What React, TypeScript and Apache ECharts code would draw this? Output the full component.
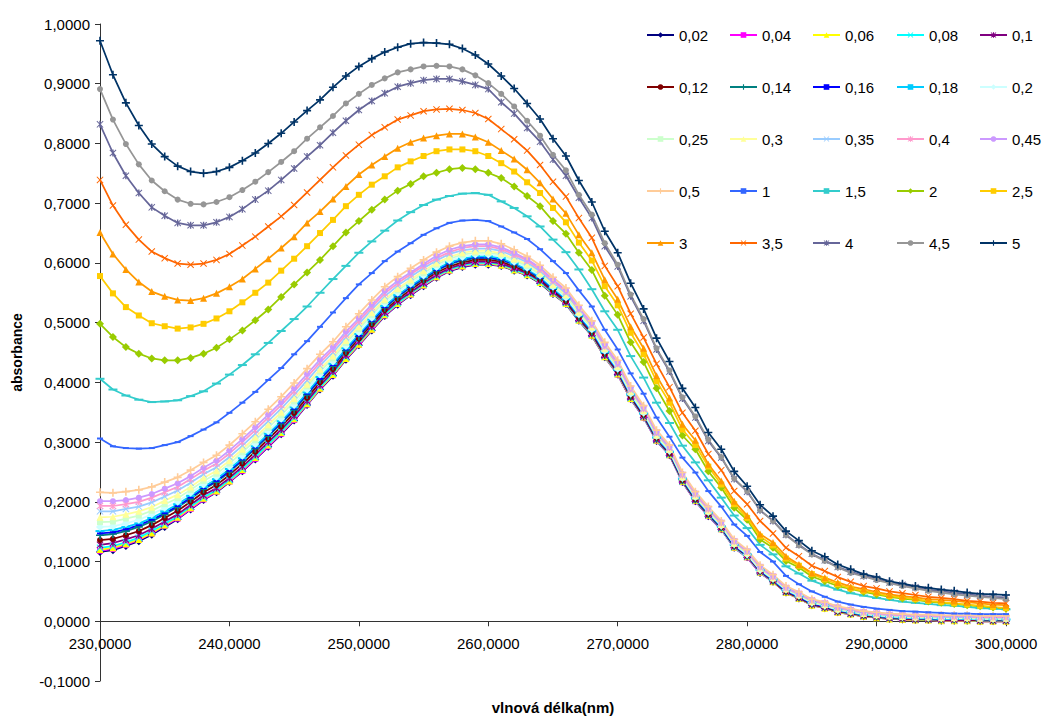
import React, { useEffect, useRef } from 'react';
import * as echarts from 'echarts';

const wavelengths = [
  230, 231, 232, 233, 234, 235, 236, 237, 238, 239,
  240, 241, 242, 243, 244, 245, 246, 247, 248, 249,
  250, 251, 252, 253, 254, 255, 256, 257, 258, 259,
  260, 261, 262, 263, 264, 265, 266, 267, 268, 269,
  270, 271, 272, 273, 274, 275, 276, 277, 278, 279,
  280, 281, 282, 283, 284, 285, 286, 287, 288, 289,
  290, 291, 292, 293, 294, 295, 296, 297, 298, 299,
  300,
];

const seriesNames = [
  '0,02', '0,04', '0,06', '0,08', '0,1',
  '0,12', '0,14', '0,16', '0,18', '0,2',
  '0,25', '0,3', '0,35', '0,4', '0,45',
  '0,5', '1', '1,5', '2', '2,5',
  '3', '3,5', '4', '4,5', '5',
];

const seriesColors = [
  '#000080', '#FF00FF', '#FFFF00', '#00FFFF', '#800080',
  '#800000', '#008080', '#0000FF', '#00CCFF', '#CCFFFF',
  '#CCFFCC', '#FFFF99', '#99CCFF', '#FF99CC', '#CC99FF',
  '#FFCC99', '#3366FF', '#33CCCC', '#99CC00', '#FFCC00',
  '#FF9900', '#FF6600', '#666699', '#969696', '#003366',
];

const c002 = [
  0.116, 0.119, 0.126, 0.134, 0.145, 0.158, 0.171, 0.187, 0.203, 0.216,
  0.233, 0.251, 0.271, 0.292, 0.313, 0.336, 0.362, 0.388, 0.411, 0.438,
  0.462, 0.487, 0.511, 0.530, 0.546, 0.561, 0.575, 0.586, 0.593, 0.597,
  0.597, 0.595, 0.587, 0.579, 0.566, 0.548, 0.531, 0.503, 0.478, 0.442,
  0.413, 0.372, 0.341, 0.302, 0.278, 0.233, 0.201, 0.176, 0.154, 0.123,
  0.107, 0.081, 0.066, 0.048, 0.038, 0.027, 0.022, 0.015, 0.012, 0.008,
  0.006, 0.004, 0.003, 0.002, 0.002, 0.001, 0.001, 0.001, 0.000, 0.000,
  0.000,
];
const c004 = [
  0.118, 0.121, 0.128, 0.136, 0.147, 0.160, 0.172, 0.188, 0.204, 0.217,
  0.234, 0.252, 0.272, 0.293, 0.314, 0.337, 0.363, 0.389, 0.412, 0.439,
  0.463, 0.488, 0.512, 0.531, 0.547, 0.562, 0.576, 0.587, 0.594, 0.598,
  0.598, 0.596, 0.588, 0.580, 0.567, 0.549, 0.532, 0.504, 0.479, 0.443,
  0.413, 0.372, 0.341, 0.302, 0.278, 0.233, 0.201, 0.176, 0.154, 0.123,
  0.107, 0.081, 0.066, 0.048, 0.038, 0.027, 0.022, 0.015, 0.012, 0.008,
  0.006, 0.004, 0.003, 0.002, 0.002, 0.001, 0.001, 0.001, 0.000, 0.000,
  0.000,
];
const c006 = [
  0.120, 0.123, 0.130, 0.137, 0.148, 0.161, 0.174, 0.190, 0.206, 0.218,
  0.235, 0.254, 0.274, 0.295, 0.316, 0.339, 0.364, 0.390, 0.413, 0.440,
  0.464, 0.489, 0.513, 0.532, 0.548, 0.563, 0.577, 0.588, 0.595, 0.599,
  0.599, 0.596, 0.588, 0.580, 0.567, 0.549, 0.532, 0.504, 0.479, 0.443,
  0.414, 0.373, 0.342, 0.303, 0.279, 0.234, 0.202, 0.177, 0.155, 0.124,
  0.108, 0.082, 0.066, 0.048, 0.038, 0.027, 0.022, 0.015, 0.012, 0.008,
  0.006, 0.004, 0.003, 0.002, 0.002, 0.001, 0.001, 0.001, 0.000, 0.000,
  0.000,
];
const c008 = [
  0.123, 0.126, 0.132, 0.140, 0.151, 0.163, 0.176, 0.192, 0.207, 0.220,
  0.237, 0.255, 0.275, 0.296, 0.317, 0.340, 0.366, 0.392, 0.415, 0.442,
  0.466, 0.491, 0.514, 0.533, 0.549, 0.564, 0.578, 0.589, 0.596, 0.600,
  0.600, 0.598, 0.589, 0.581, 0.568, 0.550, 0.533, 0.505, 0.480, 0.444,
  0.415, 0.374, 0.342, 0.303, 0.279, 0.234, 0.202, 0.177, 0.155, 0.124,
  0.108, 0.082, 0.067, 0.049, 0.039, 0.028, 0.023, 0.016, 0.013, 0.009,
  0.007, 0.005, 0.004, 0.003, 0.003, 0.002, 0.002, 0.002, 0.001, 0.001,
  0.001,
];
const c010 = [
  0.128, 0.131, 0.137, 0.144, 0.155, 0.167, 0.179, 0.195, 0.211, 0.223,
  0.240, 0.259, 0.279, 0.300, 0.321, 0.344, 0.369, 0.395, 0.418, 0.445,
  0.468, 0.493, 0.517, 0.536, 0.551, 0.566, 0.580, 0.591, 0.598, 0.602,
  0.602, 0.599, 0.591, 0.583, 0.570, 0.551, 0.534, 0.506, 0.481, 0.445,
  0.416, 0.375, 0.343, 0.304, 0.280, 0.235, 0.203, 0.178, 0.156, 0.125,
  0.109, 0.083, 0.067, 0.049, 0.039, 0.028, 0.023, 0.016, 0.013, 0.009,
  0.007, 0.005, 0.004, 0.003, 0.003, 0.002, 0.002, 0.002, 0.001, 0.001,
  0.001,
];
const c012 = [
  0.136, 0.138, 0.144, 0.151, 0.161, 0.173, 0.185, 0.200, 0.216, 0.228,
  0.245, 0.264, 0.284, 0.305, 0.326, 0.349, 0.374, 0.400, 0.422, 0.449,
  0.473, 0.497, 0.521, 0.539, 0.555, 0.570, 0.584, 0.594, 0.601, 0.605,
  0.605, 0.602, 0.594, 0.585, 0.572, 0.554, 0.536, 0.508, 0.483, 0.447,
  0.418, 0.376, 0.345, 0.306, 0.281, 0.236, 0.204, 0.179, 0.157, 0.126,
  0.110, 0.084, 0.068, 0.050, 0.040, 0.029, 0.024, 0.017, 0.014, 0.010,
  0.008, 0.006, 0.005, 0.004, 0.004, 0.003, 0.003, 0.003, 0.002, 0.002,
  0.002,
];
const c014 = [
  0.144, 0.146, 0.151, 0.158, 0.167, 0.179, 0.191, 0.205, 0.221, 0.233,
  0.250, 0.269, 0.289, 0.310, 0.331, 0.354, 0.379, 0.405, 0.427, 0.453,
  0.477, 0.501, 0.525, 0.543, 0.559, 0.573, 0.587, 0.598, 0.604, 0.608,
  0.608, 0.605, 0.597, 0.588, 0.574, 0.556, 0.539, 0.510, 0.485, 0.449,
  0.420, 0.378, 0.347, 0.307, 0.283, 0.237, 0.205, 0.180, 0.158, 0.127,
  0.111, 0.085, 0.069, 0.051, 0.041, 0.030, 0.025, 0.018, 0.015, 0.011,
  0.009, 0.007, 0.006, 0.005, 0.005, 0.004, 0.004, 0.004, 0.003, 0.003,
  0.003,
];
const c016 = [
  0.147, 0.149, 0.154, 0.161, 0.170, 0.181, 0.193, 0.207, 0.223, 0.235,
  0.252, 0.271, 0.291, 0.312, 0.333, 0.356, 0.381, 0.406, 0.429, 0.455,
  0.478, 0.503, 0.526, 0.545, 0.560, 0.575, 0.588, 0.599, 0.606, 0.609,
  0.609, 0.606, 0.598, 0.589, 0.575, 0.557, 0.539, 0.511, 0.486, 0.450,
  0.420, 0.379, 0.347, 0.308, 0.283, 0.238, 0.206, 0.181, 0.158, 0.127,
  0.111, 0.085, 0.069, 0.051, 0.041, 0.030, 0.025, 0.018, 0.015, 0.011,
  0.009, 0.007, 0.006, 0.005, 0.005, 0.004, 0.004, 0.004, 0.003, 0.003,
  0.003,
];
const c018 = [
  0.151, 0.153, 0.158, 0.164, 0.173, 0.184, 0.196, 0.210, 0.225, 0.238,
  0.255, 0.273, 0.293, 0.314, 0.335, 0.358, 0.383, 0.409, 0.431, 0.457,
  0.481, 0.505, 0.528, 0.546, 0.562, 0.576, 0.590, 0.601, 0.607, 0.611,
  0.611, 0.608, 0.599, 0.590, 0.577, 0.558, 0.540, 0.512, 0.487, 0.451,
  0.421, 0.380, 0.348, 0.308, 0.284, 0.239, 0.207, 0.182, 0.159, 0.128,
  0.112, 0.086, 0.070, 0.052, 0.042, 0.031, 0.026, 0.019, 0.015, 0.011,
  0.009, 0.007, 0.006, 0.005, 0.005, 0.004, 0.004, 0.004, 0.003, 0.003,
  0.003,
];
const c020 = [
  0.158, 0.159, 0.164, 0.170, 0.179, 0.190, 0.200, 0.215, 0.229, 0.242,
  0.259, 0.277, 0.297, 0.318, 0.339, 0.362, 0.388, 0.413, 0.435, 0.461,
  0.484, 0.508, 0.532, 0.550, 0.565, 0.579, 0.593, 0.604, 0.610, 0.614,
  0.614, 0.611, 0.602, 0.592, 0.579, 0.560, 0.542, 0.514, 0.489, 0.453,
  0.423, 0.381, 0.349, 0.310, 0.285, 0.240, 0.208, 0.183, 0.160, 0.129,
  0.112, 0.086, 0.071, 0.053, 0.043, 0.031, 0.026, 0.019, 0.016, 0.012,
  0.010, 0.008, 0.007, 0.006, 0.006, 0.005, 0.005, 0.005, 0.004, 0.004,
  0.004,
];
const c025 = [
  0.166, 0.167, 0.172, 0.177, 0.185, 0.196, 0.206, 0.220, 0.235, 0.247,
  0.264, 0.283, 0.303, 0.324, 0.345, 0.368, 0.393, 0.418, 0.440, 0.466,
  0.489, 0.513, 0.536, 0.554, 0.569, 0.583, 0.597, 0.607, 0.614, 0.617,
  0.617, 0.614, 0.605, 0.595, 0.581, 0.562, 0.545, 0.516, 0.491, 0.455,
  0.425, 0.383, 0.351, 0.311, 0.287, 0.241, 0.209, 0.184, 0.161, 0.130,
  0.114, 0.088, 0.072, 0.054, 0.044, 0.032, 0.027, 0.020, 0.017, 0.013,
  0.011, 0.009, 0.008, 0.007, 0.007, 0.006, 0.006, 0.006, 0.005, 0.005,
  0.005,
];
const c030 = [
  0.174, 0.175, 0.179, 0.184, 0.191, 0.202, 0.212, 0.225, 0.240, 0.252,
  0.269, 0.288, 0.308, 0.329, 0.350, 0.373, 0.397, 0.422, 0.444, 0.470,
  0.493, 0.517, 0.539, 0.557, 0.572, 0.587, 0.600, 0.610, 0.617, 0.620,
  0.620, 0.616, 0.607, 0.598, 0.583, 0.564, 0.547, 0.518, 0.493, 0.457,
  0.427, 0.385, 0.353, 0.312, 0.288, 0.242, 0.210, 0.185, 0.162, 0.131,
  0.115, 0.089, 0.073, 0.054, 0.044, 0.033, 0.028, 0.021, 0.017, 0.013,
  0.011, 0.009, 0.008, 0.007, 0.007, 0.006, 0.006, 0.006, 0.005, 0.005,
  0.005,
];
const c035 = [
  0.184, 0.184, 0.188, 0.192, 0.199, 0.209, 0.219, 0.232, 0.246, 0.258,
  0.275, 0.294, 0.314, 0.335, 0.356, 0.379, 0.403, 0.428, 0.450, 0.475,
  0.498, 0.522, 0.544, 0.562, 0.577, 0.591, 0.604, 0.615, 0.621, 0.624,
  0.624, 0.620, 0.611, 0.601, 0.586, 0.567, 0.549, 0.521, 0.495, 0.459,
  0.429, 0.387, 0.355, 0.314, 0.290, 0.244, 0.212, 0.187, 0.164, 0.133,
  0.116, 0.090, 0.074, 0.055, 0.045, 0.034, 0.029, 0.022, 0.018, 0.014,
  0.012, 0.010, 0.009, 0.008, 0.008, 0.007, 0.007, 0.007, 0.006, 0.006,
  0.006,
];
const c040 = [
  0.193, 0.193, 0.196, 0.200, 0.207, 0.216, 0.225, 0.238, 0.252, 0.264,
  0.281, 0.300, 0.320, 0.341, 0.362, 0.385, 0.409, 0.433, 0.455, 0.480,
  0.503, 0.526, 0.549, 0.566, 0.581, 0.595, 0.608, 0.618, 0.625, 0.628,
  0.628, 0.623, 0.614, 0.604, 0.589, 0.570, 0.552, 0.523, 0.497, 0.461,
  0.431, 0.389, 0.356, 0.316, 0.291, 0.245, 0.213, 0.188, 0.165, 0.134,
  0.117, 0.091, 0.075, 0.056, 0.046, 0.035, 0.030, 0.023, 0.019, 0.015,
  0.013, 0.011, 0.010, 0.009, 0.009, 0.008, 0.008, 0.008, 0.007, 0.007,
  0.007,
];
const c045 = [
  0.201, 0.201, 0.203, 0.207, 0.213, 0.222, 0.231, 0.243, 0.257, 0.269,
  0.286, 0.305, 0.325, 0.346, 0.367, 0.390, 0.414, 0.438, 0.459, 0.485,
  0.507, 0.530, 0.553, 0.570, 0.584, 0.598, 0.612, 0.622, 0.628, 0.631,
  0.631, 0.626, 0.617, 0.606, 0.592, 0.572, 0.554, 0.525, 0.499, 0.463,
  0.433, 0.391, 0.358, 0.317, 0.292, 0.247, 0.215, 0.190, 0.166, 0.135,
  0.118, 0.092, 0.076, 0.057, 0.047, 0.036, 0.031, 0.024, 0.020, 0.016,
  0.014, 0.012, 0.011, 0.010, 0.010, 0.009, 0.009, 0.009, 0.008, 0.008,
  0.008,
];
const c050 = [
  0.216, 0.215, 0.217, 0.220, 0.225, 0.233, 0.241, 0.253, 0.266, 0.278,
  0.295, 0.314, 0.334, 0.355, 0.376, 0.399, 0.423, 0.447, 0.468, 0.493,
  0.515, 0.538, 0.560, 0.577, 0.591, 0.605, 0.618, 0.628, 0.634, 0.637,
  0.637, 0.632, 0.622, 0.611, 0.596, 0.576, 0.558, 0.529, 0.503, 0.467,
  0.437, 0.394, 0.361, 0.320, 0.295, 0.249, 0.217, 0.192, 0.168, 0.137,
  0.120, 0.094, 0.078, 0.059, 0.049, 0.037, 0.032, 0.025, 0.021, 0.017,
  0.015, 0.013, 0.012, 0.011, 0.011, 0.010, 0.010, 0.010, 0.009, 0.009,
  0.009,
];
const c1 = [
  0.306, 0.293, 0.290, 0.289, 0.290, 0.295, 0.300, 0.310, 0.321, 0.333,
  0.349, 0.366, 0.384, 0.404, 0.424, 0.447, 0.469, 0.493, 0.517, 0.541,
  0.564, 0.583, 0.603, 0.619, 0.633, 0.647, 0.658, 0.667, 0.671, 0.672,
  0.670, 0.661, 0.651, 0.640, 0.623, 0.603, 0.583, 0.554, 0.527, 0.488,
  0.455, 0.415, 0.381, 0.341, 0.309, 0.274, 0.249, 0.218, 0.192, 0.162,
  0.143, 0.116, 0.100, 0.076, 0.062, 0.050, 0.041, 0.033, 0.028, 0.024,
  0.021, 0.019, 0.017, 0.016, 0.015, 0.014, 0.013, 0.013, 0.012, 0.012,
  0.012,
];
const c1_5 = [
  0.406, 0.388, 0.378, 0.371, 0.367, 0.368, 0.370, 0.377, 0.385, 0.398,
  0.413, 0.429, 0.447, 0.466, 0.486, 0.506, 0.527, 0.550, 0.573, 0.595,
  0.617, 0.636, 0.654, 0.671, 0.685, 0.697, 0.706, 0.712, 0.716, 0.717,
  0.714, 0.703, 0.692, 0.678, 0.661, 0.639, 0.618, 0.589, 0.556, 0.519,
  0.488, 0.444, 0.408, 0.366, 0.332, 0.294, 0.266, 0.236, 0.207, 0.177,
  0.156, 0.128, 0.112, 0.092, 0.080, 0.068, 0.060, 0.053, 0.047, 0.043,
  0.039, 0.036, 0.033, 0.031, 0.029, 0.027, 0.026, 0.024, 0.022, 0.021,
  0.020,
];
const c2 = [
  0.498, 0.476, 0.459, 0.448, 0.440, 0.437, 0.437, 0.441, 0.448, 0.458,
  0.472, 0.487, 0.504, 0.522, 0.543, 0.564, 0.584, 0.605, 0.628, 0.651,
  0.670, 0.689, 0.706, 0.721, 0.732, 0.745, 0.751, 0.757, 0.759, 0.757,
  0.751, 0.742, 0.728, 0.712, 0.695, 0.670, 0.649, 0.617, 0.588, 0.545,
  0.513, 0.467, 0.434, 0.390, 0.352, 0.311, 0.288, 0.251, 0.224, 0.190,
  0.170, 0.137, 0.123, 0.101, 0.090, 0.075, 0.067, 0.059, 0.054, 0.049,
  0.045, 0.041, 0.038, 0.036, 0.033, 0.031, 0.029, 0.027, 0.025, 0.023,
  0.021,
];
const c2_5 = [
  0.578, 0.549, 0.526, 0.512, 0.499, 0.494, 0.490, 0.492, 0.498, 0.507,
  0.519, 0.534, 0.550, 0.567, 0.587, 0.607, 0.628, 0.650, 0.672, 0.695,
  0.714, 0.731, 0.745, 0.760, 0.770, 0.779, 0.787, 0.790, 0.790, 0.787,
  0.779, 0.767, 0.753, 0.735, 0.717, 0.692, 0.668, 0.634, 0.604, 0.561,
  0.529, 0.483, 0.447, 0.402, 0.366, 0.321, 0.295, 0.259, 0.229, 0.196,
  0.173, 0.142, 0.127, 0.105, 0.093, 0.079, 0.070, 0.062, 0.055, 0.051,
  0.047, 0.042, 0.040, 0.037, 0.034, 0.032, 0.030, 0.028, 0.026, 0.024,
  0.022,
];
const c3 = [
  0.651, 0.615, 0.589, 0.568, 0.552, 0.544, 0.538, 0.537, 0.541, 0.549,
  0.560, 0.573, 0.590, 0.607, 0.625, 0.644, 0.667, 0.686, 0.707, 0.728,
  0.748, 0.764, 0.778, 0.792, 0.802, 0.809, 0.813, 0.816, 0.816, 0.811,
  0.802, 0.788, 0.774, 0.756, 0.734, 0.707, 0.683, 0.647, 0.617, 0.572,
  0.539, 0.493, 0.457, 0.411, 0.374, 0.330, 0.303, 0.263, 0.235, 0.201,
  0.177, 0.146, 0.132, 0.109, 0.095, 0.081, 0.073, 0.065, 0.058, 0.054,
  0.049, 0.045, 0.042, 0.040, 0.037, 0.036, 0.034, 0.032, 0.030, 0.028,
  0.027,
];
const c3_5 = [
  0.739, 0.696, 0.664, 0.639, 0.619, 0.608, 0.599, 0.597, 0.599, 0.605,
  0.615, 0.629, 0.644, 0.661, 0.678, 0.697, 0.718, 0.739, 0.760, 0.780,
  0.798, 0.814, 0.827, 0.840, 0.847, 0.854, 0.857, 0.858, 0.856, 0.851,
  0.841, 0.824, 0.807, 0.788, 0.764, 0.736, 0.711, 0.675, 0.642, 0.595,
  0.561, 0.515, 0.475, 0.431, 0.392, 0.349, 0.319, 0.280, 0.253, 0.218,
  0.196, 0.168, 0.147, 0.123, 0.109, 0.093, 0.084, 0.074, 0.066, 0.059,
  0.055, 0.050, 0.047, 0.044, 0.041, 0.039, 0.037, 0.034, 0.033, 0.031,
  0.030,
];
const c4 = [
  0.832, 0.784, 0.746, 0.717, 0.693, 0.679, 0.667, 0.663, 0.663, 0.668,
  0.677, 0.690, 0.706, 0.721, 0.739, 0.758, 0.778, 0.797, 0.818, 0.838,
  0.856, 0.871, 0.884, 0.895, 0.901, 0.906, 0.908, 0.908, 0.904, 0.898,
  0.891, 0.869, 0.850, 0.826, 0.803, 0.773, 0.746, 0.709, 0.675, 0.628,
  0.594, 0.544, 0.503, 0.455, 0.418, 0.373, 0.341, 0.302, 0.274, 0.238,
  0.217, 0.186, 0.168, 0.145, 0.128, 0.113, 0.102, 0.091, 0.083, 0.076,
  0.071, 0.065, 0.061, 0.057, 0.053, 0.050, 0.048, 0.045, 0.043, 0.041,
  0.040,
];
const c4_5 = [
  0.891, 0.840, 0.799, 0.765, 0.738, 0.720, 0.706, 0.699, 0.698, 0.702,
  0.710, 0.722, 0.736, 0.752, 0.769, 0.787, 0.808, 0.827, 0.846, 0.867,
  0.883, 0.898, 0.909, 0.919, 0.924, 0.929, 0.930, 0.929, 0.924, 0.914,
  0.901, 0.883, 0.862, 0.838, 0.813, 0.781, 0.755, 0.714, 0.681, 0.633,
  0.597, 0.547, 0.506, 0.457, 0.420, 0.375, 0.343, 0.304, 0.275, 0.239,
  0.218, 0.186, 0.168, 0.144, 0.127, 0.112, 0.101, 0.090, 0.081, 0.075,
  0.069, 0.064, 0.059, 0.055, 0.051, 0.048, 0.045, 0.043, 0.041, 0.039,
  0.037,
];
const c5 = [
  0.972, 0.915, 0.868, 0.830, 0.799, 0.778, 0.762, 0.753, 0.750, 0.753,
  0.760, 0.771, 0.784, 0.800, 0.817, 0.836, 0.855, 0.873, 0.894, 0.913,
  0.929, 0.942, 0.953, 0.961, 0.967, 0.969, 0.968, 0.966, 0.959, 0.948,
  0.933, 0.913, 0.892, 0.867, 0.841, 0.808, 0.779, 0.738, 0.702, 0.653,
  0.617, 0.566, 0.523, 0.474, 0.435, 0.390, 0.358, 0.316, 0.288, 0.251,
  0.226, 0.195, 0.176, 0.151, 0.135, 0.118, 0.108, 0.095, 0.087, 0.079,
  0.074, 0.067, 0.063, 0.059, 0.056, 0.053, 0.051, 0.048, 0.046, 0.045,
  0.044,
];

const seriesValues = [
  c002, c004, c006, c008, c010, c012, c014, c016, c018, c020,
  c025, c030, c035, c040, c045, c050, c1, c1_5, c2, c2_5,
  c3, c3_5, c4, c4_5, c5,
];

const SYM_X = 'path://M0,1L1,0L5,4L9,0L10,1L6,5L10,9L9,10L5,6L1,10L0,9L4,5Z';
const SYM_STAR = 'path://M0,1L1,0L5,4L9,0L10,1L6,5L10,9L9,10L5,6L1,10L0,9L4,5Z M4,0L6,0L6,10L4,10Z';
const SYM_PLUS = 'path://M4,0L6,0L6,4L10,4L10,6L6,6L6,10L4,10L4,6L0,6L0,4L4,4Z';
const SYM_DASH = 'path://M0,0L10,0L10,2L0,2Z';

const markerCycle = ['diamond', 'rect', 'triangle', SYM_X, SYM_STAR, 'circle', SYM_PLUS, SYM_DASH, SYM_DASH];
const markerSizes: any[] = [8, 6, 7, 7, 7, 6, 8, [6, 2], [9, 2]];

const legendColumnLefts = [646, 729, 812, 896, 979];

const Y_MIN = -0.1;
const Y_MAX = 1.0;
const GRID_TOP = 24;
const GRID_HEIGHT = 657;

const FONT = 'Liberation Sans, Arial, sans-serif';

const fmt = (v: number) => v.toFixed(4).replace('.', ',');

export default function App() {
  const ref = useRef<HTMLDivElement>(null);

  useEffect(() => {
    if (!ref.current) return;
    const chart = echarts.init(ref.current, undefined, { renderer: 'svg' });

    const series = seriesNames.map((name, i) => ({
      name,
      type: 'line',
      data: wavelengths.map((w, j) => [w, seriesValues[i][j]]),
      symbol: markerCycle[i % 9],
      symbolSize: markerSizes[i % 9],
      showSymbol: true,
      lineStyle: { width: 1.75, color: seriesColors[i] },
      itemStyle: { color: seriesColors[i] },
      emphasis: { disabled: true },
      z: 2,
    }));

    const legends = legendColumnLefts.map((left, c) => ({
      data: [0, 1, 2, 3, 4].map((r) => seriesNames[r * 5 + c]),
      orient: 'vertical',
      left,
      top: 27,
      padding: 0,
      itemWidth: 27,
      itemHeight: 7,
      itemGap: 36,
      selectedMode: false,
      textStyle: { fontFamily: FONT, fontSize: 15, color: '#000', lineHeight: 16 },
    }));

    // the x axis crosses the y axis at zero: shift it up from the grid bottom
    const zeroOffset = -(GRID_HEIGHT * (0 - Y_MIN)) / (Y_MAX - Y_MIN);

    chart.setOption({
      animation: false,
      backgroundColor: '#fff',
      textStyle: { fontFamily: FONT },
      color: seriesColors,
      grid: { left: 100, top: GRID_TOP, width: 906, height: GRID_HEIGHT, outerBoundsMode: 'none' },
      legend: legends,
      xAxis: {
        type: 'value',
        min: 230,
        max: 300,
        interval: 10,
        position: 'bottom',
        offset: zeroOffset,
        name: 'vlnová délka(nm)',
        nameLocation: 'middle',
        nameGap: 79,
        nameTextStyle: { fontFamily: FONT, fontSize: 15, fontWeight: 'bold', color: '#000' },
        axisLine: { onZero: false, lineStyle: { color: '#333', width: 1 } },
        axisTick: { show: true, inside: false, length: 5, lineStyle: { color: '#333' } },
        axisLabel: { formatter: fmt, fontFamily: FONT, fontSize: 15, color: '#000', margin: 15 },
        splitLine: { show: false },
      },
      yAxis: {
        type: 'value',
        min: Y_MIN,
        max: Y_MAX,
        interval: 0.1,
        name: 'absorbance',
        nameLocation: 'middle',
        nameGap: 76,
        nameTextStyle: { fontFamily: FONT, fontSize: 14, fontWeight: 'bold', color: '#000' },
        axisLine: { show: true, onZero: false, lineStyle: { color: '#333', width: 1 } },
        axisTick: { show: true, inside: false, length: 5, lineStyle: { color: '#333' } },
        axisLabel: { formatter: fmt, fontFamily: FONT, fontSize: 15, color: '#000', margin: 10 },
        splitLine: { show: false },
      },
      series,
    });

    return () => {
      chart.dispose();
    };
  }, []);

  return (
    <div
      ref={ref}
      style={{ position: 'fixed', left: 0, top: 0, width: 1043, height: 719, background: '#fff' }}
    />
  );
}
